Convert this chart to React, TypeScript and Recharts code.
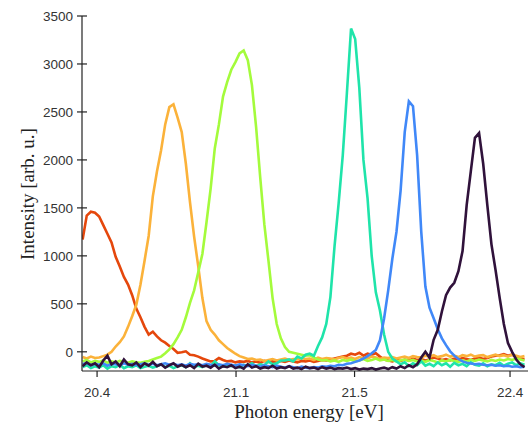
import { LineChart, Line, XAxis, YAxis, Label } from "recharts";

// photon energy grid (eV), shared by every spectrum
const energies = [
  20.33, 20.35, 20.37, 20.39, 20.41, 20.43, 20.45, 20.47, 20.49, 20.51,
  20.53, 20.55, 20.57, 20.59, 20.61, 20.63, 20.65, 20.67, 20.69, 20.71,
  20.73, 20.75, 20.77, 20.79, 20.81, 20.83, 20.85, 20.87, 20.89, 20.91,
  20.93, 20.95, 20.97, 20.99, 21.01, 21.03, 21.05, 21.07, 21.09, 21.11,
  21.13, 21.15, 21.17, 21.19, 21.21, 21.23, 21.25, 21.27, 21.29, 21.31,
  21.33, 21.35, 21.37, 21.39, 21.41, 21.43, 21.45, 21.47, 21.49, 21.51,
  21.53, 21.55, 21.57, 21.59, 21.61, 21.63, 21.65, 21.67, 21.69, 21.71,
  21.73, 21.75, 21.77, 21.79, 21.81, 21.83, 21.85, 21.87, 21.89, 21.91,
  21.93, 21.95, 21.97, 21.99, 22.01, 22.03, 22.05, 22.07, 22.09, 22.11,
  22.13, 22.15, 22.17, 22.19, 22.21, 22.23, 22.25, 22.27, 22.29, 22.31,
  22.33, 22.35, 22.37, 22.39, 22.41, 22.43, 22.45, 22.47,
];

const redSpec = [
  1170, 1420, 1460, 1450, 1410, 1320, 1230, 1140, 990, 890,
  780, 700, 590, 450, 360, 260, 180, 210, 160, 120,
  95, 60, 30, -10, -5, 5, -30, -35, -50, -70,
  -85, -100, -95, -65, -85, -100, -95, -110, -100, -105,
  -95, -110, -100, -115, -95, -105, -100, -110, -95, -105,
  -90, -100, -110, -95, -100, -90, -105, -95, -85, -90,
  -80, -70, -60, -50, -40, -20, -30, -10, -40, -20,
  -30, -15, -50, -80, -90, -100, -85, -95, -80, -90,
  -70, -85, -75, -90, -80, -60, -70, -85, -75, -90,
  -70, -80, -65, -75, -85, -70, -60, -75, -65, -50,
  -40, -35, -25, -40, -30, -55, -70, -80,
];

const orangeSpec = [
  -55, -70, -50, -65, -60, -45, -30, 0, 55, 100,
  160, 260, 370, 490, 700, 950, 1210, 1620, 1880, 2100,
  2370, 2550, 2580, 2440, 2290, 1960, 1560, 1200, 890, 560,
  320, 230, 180, 120, 80, 40, 10, -20, -45, -60,
  -75, -70, -85, -80, -95, -85, -75, -90, -80, -70,
  -85, -75, -80, -65, -75, -70, -85, -60, -75, -65,
  -70, -80, -65, -55, -70, -60, -75, -55, -65, -70,
  -50, -60, -75, -60, -65, -55, -70, -60, -50, -65,
  -45, -55, -60, -40, -50, -35, -55, -45, -30, -50,
  -40, -55, -35, -45, -30, -50, -40, -35, -55, -40,
  -30, -45, -35, -50, -30, -40, -55, -45,
];

const limeSpec = [
  -100, -85, -110, -95, -105, -90, -115, -100, -110, -95,
  -105, -115, -100, -110, -115, -105, -95, -80, -65, -50,
  -15, 25, 80, 150, 229, 360, 510, 640, 830, 1020,
  1350, 1700, 2120, 2370, 2660, 2810, 2940, 3020, 3110, 3140,
  3040, 2780, 2347, 1820, 1330, 950, 560, 290, 140, 50,
  0, -10, -20, -30, -40, -35, -60, -80, -90, -85,
  -100, -90, -105, -85, -95, -80, -100, -90, -75, -95,
  -85, -70, -90, -80, -95, -85, -100, -90, -80, -95,
  -85, -100, -90, -105, -85, -95, -110, -90, -100, -85,
  -95, -105, -90, -100, -85, -95, -80, -90, -100, -85,
  -95, -80, -90, -75, -85, -70, -80, -90,
];

const tealSpec = [
  -160, -140, -170, -150, -165, -140, -175, -150, -160, -135,
  -170, -150, -160, -140, -170, -155, -145, -165, -150, -130,
  -160, -145, -170, -150, -140, -160, -120, -155, -145, -160,
  -135, -150, -100, -140, -155, -130, -150, -140, -160, -135,
  -145, -120, -150, -130, -140, -100, -130, -120, -90, -90,
  -80, -100, -50, -70, -30, -20, -40, 60, 150, 290,
  570, 1100, 1550, 2050, 2700, 3370, 3260, 2750, 2000, 1600,
  1000, 620, 430, 180, 0, -70, -100, -130, -110, -150,
  -120, -140, -100, -145, -125, -150, -110, -140, -120, -155,
  -115, -140, -125, -150, -110, -135, -145, -120, -150, -130,
  -140, -115, -145, -125, -110, -140, -120, -135,
];

const blueSpec = [
  -130, -115, -140, -125, -135, -120, -145, -125, -130, -140,
  -120, -135, -125, -140, -130, -120, -135, -125, -140, -130,
  -120, -135, -125, -140, -130, -145, -125, -135, -130, -140,
  -125, -135, -145, -130, -140, -125, -135, -145, -130, -140,
  -150, -135, -145, -155, -140, -150, -160, -145, -155, -165,
  -150, -160, -170, -155, -165, -170, -160, -165, -150, -155,
  -145, -150, -135, -140, -125, -120, -105, -90, -70, -45,
  -15, 20, 120, 347, 640, 970, 1250, 1680, 2290, 2610,
  2560, 2050, 1250, 680, 460, 350, 235, 140, 70, 5,
  -40, -75, -100, -115, -122, -130, -125, -135, -140, -135,
  -145, -140, -150, -145, -155, -150, -160, -155,
];

const darkSpec = [
  -150, -110, -140, -120, -160, -90, -40, -130, -100, -150,
  -80, -130, -140, -110, -160, -120, -145, -105, -150, -130,
  -165, -140, -120, -155, -135, -160, -140, -170, -125, -155,
  -145, -165, -135, -175, -150, -160, -140, -170, -155, -175,
  -130, -165, -150, -175, -160, -170, -145, -175, -160, -170,
  -150, -175, -165, -180, -155, -170, -165, -180, -160, -175,
  -165, -180, -170, -175, -165, -180, -170, -185, -175, -180,
  -170, -185, -175, -165, -180, -160, -175, -150, -170, -140,
  -160, -130, -60, 0, -60, 125, 230, 420, 590, 670,
  720, 840, 1050, 1530, 1880, 2230, 2280, 1960, 1530, 1120,
  850, 560, 290, 90, 0, -80, -130, -160,
];

const seriesKeys = ["red", "orange", "lime", "teal", "blue", "dark"];
const seriesColors = ["#e5470c", "#fbb23a", "#a4fb3c", "#1fe4aa", "#4088f8", "#30123b"];

// tick positions on the energy axis and the labels printed under them
const xTickValues = [20.4, 21.073, 21.647, 22.4];
const xTickLabels = ["20.4", "21.1", "21.5", "22.4"];
const yTickValues = [0, 500, 1000, 1500, 2000, 2500, 3000, 3500];

const data = energies.map((e, i) => ({
  e,
  red: redSpec[i],
  orange: orangeSpec[i],
  lime: limeSpec[i],
  teal: tealSpec[i],
  blue: blueSpec[i],
  dark: darkSpec[i],
}));

const SANS = "'Liberation Sans', Arial, sans-serif";
const SERIF = "'Liberation Serif', 'Times New Roman', serif";

function YTick(props: any) {
  const { x, y, payload } = props;
  return (
    <g>
      <line x1={x - 5} x2={x + 5} y1={y} y2={y} stroke="#222" strokeWidth={1.2} />
      <text x={x - 9} y={y} dy={5} textAnchor="end" fontSize={13.5} fill="#333" fontFamily={SANS}>
        {payload.value}
      </text>
    </g>
  );
}

function XTick(props: any) {
  const { x, y, payload } = props;
  const idx = xTickValues.indexOf(payload.value);
  return (
    <g>
      <line x1={x} x2={x} y1={y} y2={y + 6} stroke="#222" strokeWidth={1.2} />
      <text x={x} y={y + 26} textAnchor="middle" fontSize={13.5} fill="#333" fontFamily={SANS}>
        {idx >= 0 ? xTickLabels[idx] : payload.value}
      </text>
    </g>
  );
}

export default function App() {
  return (
    <div style={{ position: "absolute", left: 0, top: 0, width: 528, height: 425, background: "#fff" }}>
      <LineChart width={528} height={425} data={data} margin={{ top: 16, right: 0, bottom: 0, left: 0 }}>
        <XAxis
          dataKey="e"
          type="number"
          domain={[20.327, 22.487]}
          allowDataOverflow
          ticks={xTickValues}
          interval={0}
          height={54}
          tickSize={0}
          tickMargin={0}
          tick={<XTick />}
          axisLine={{ stroke: "#222", strokeWidth: 1.2 }}
        >
          <Label
            content={() => (
              <text x={309} y={418} textAnchor="middle" fontSize={19} fill="#222" fontFamily={SERIF}>
                Photon energy [eV]
              </text>
            )}
          />
        </XAxis>
        <YAxis
          type="number"
          domain={[-200, 3500]}
          allowDataOverflow
          ticks={yTickValues}
          interval={0}
          width={82}
          tickSize={0}
          tickMargin={0}
          tick={<YTick />}
          axisLine={{ stroke: "#222", strokeWidth: 1.2 }}
        >
          <Label
            content={() => (
              <text
                x={27}
                y={194}
                transform="rotate(-90 27 194)"
                textAnchor="middle"
                dominantBaseline="central"
                fontSize={19}
                fill="#222"
                fontFamily={SERIF}
              >
                Intensity [arb. u.]
              </text>
            )}
          />
        </YAxis>
        {seriesKeys.map((k, i) => (
          <Line
            key={k}
            dataKey={k}
            type="linear"
            stroke={seriesColors[i]}
            strokeWidth={2.6}
            dot={false}
            isAnimationActive={false}
          />
        ))}
      </LineChart>
    </div>
  );
}
